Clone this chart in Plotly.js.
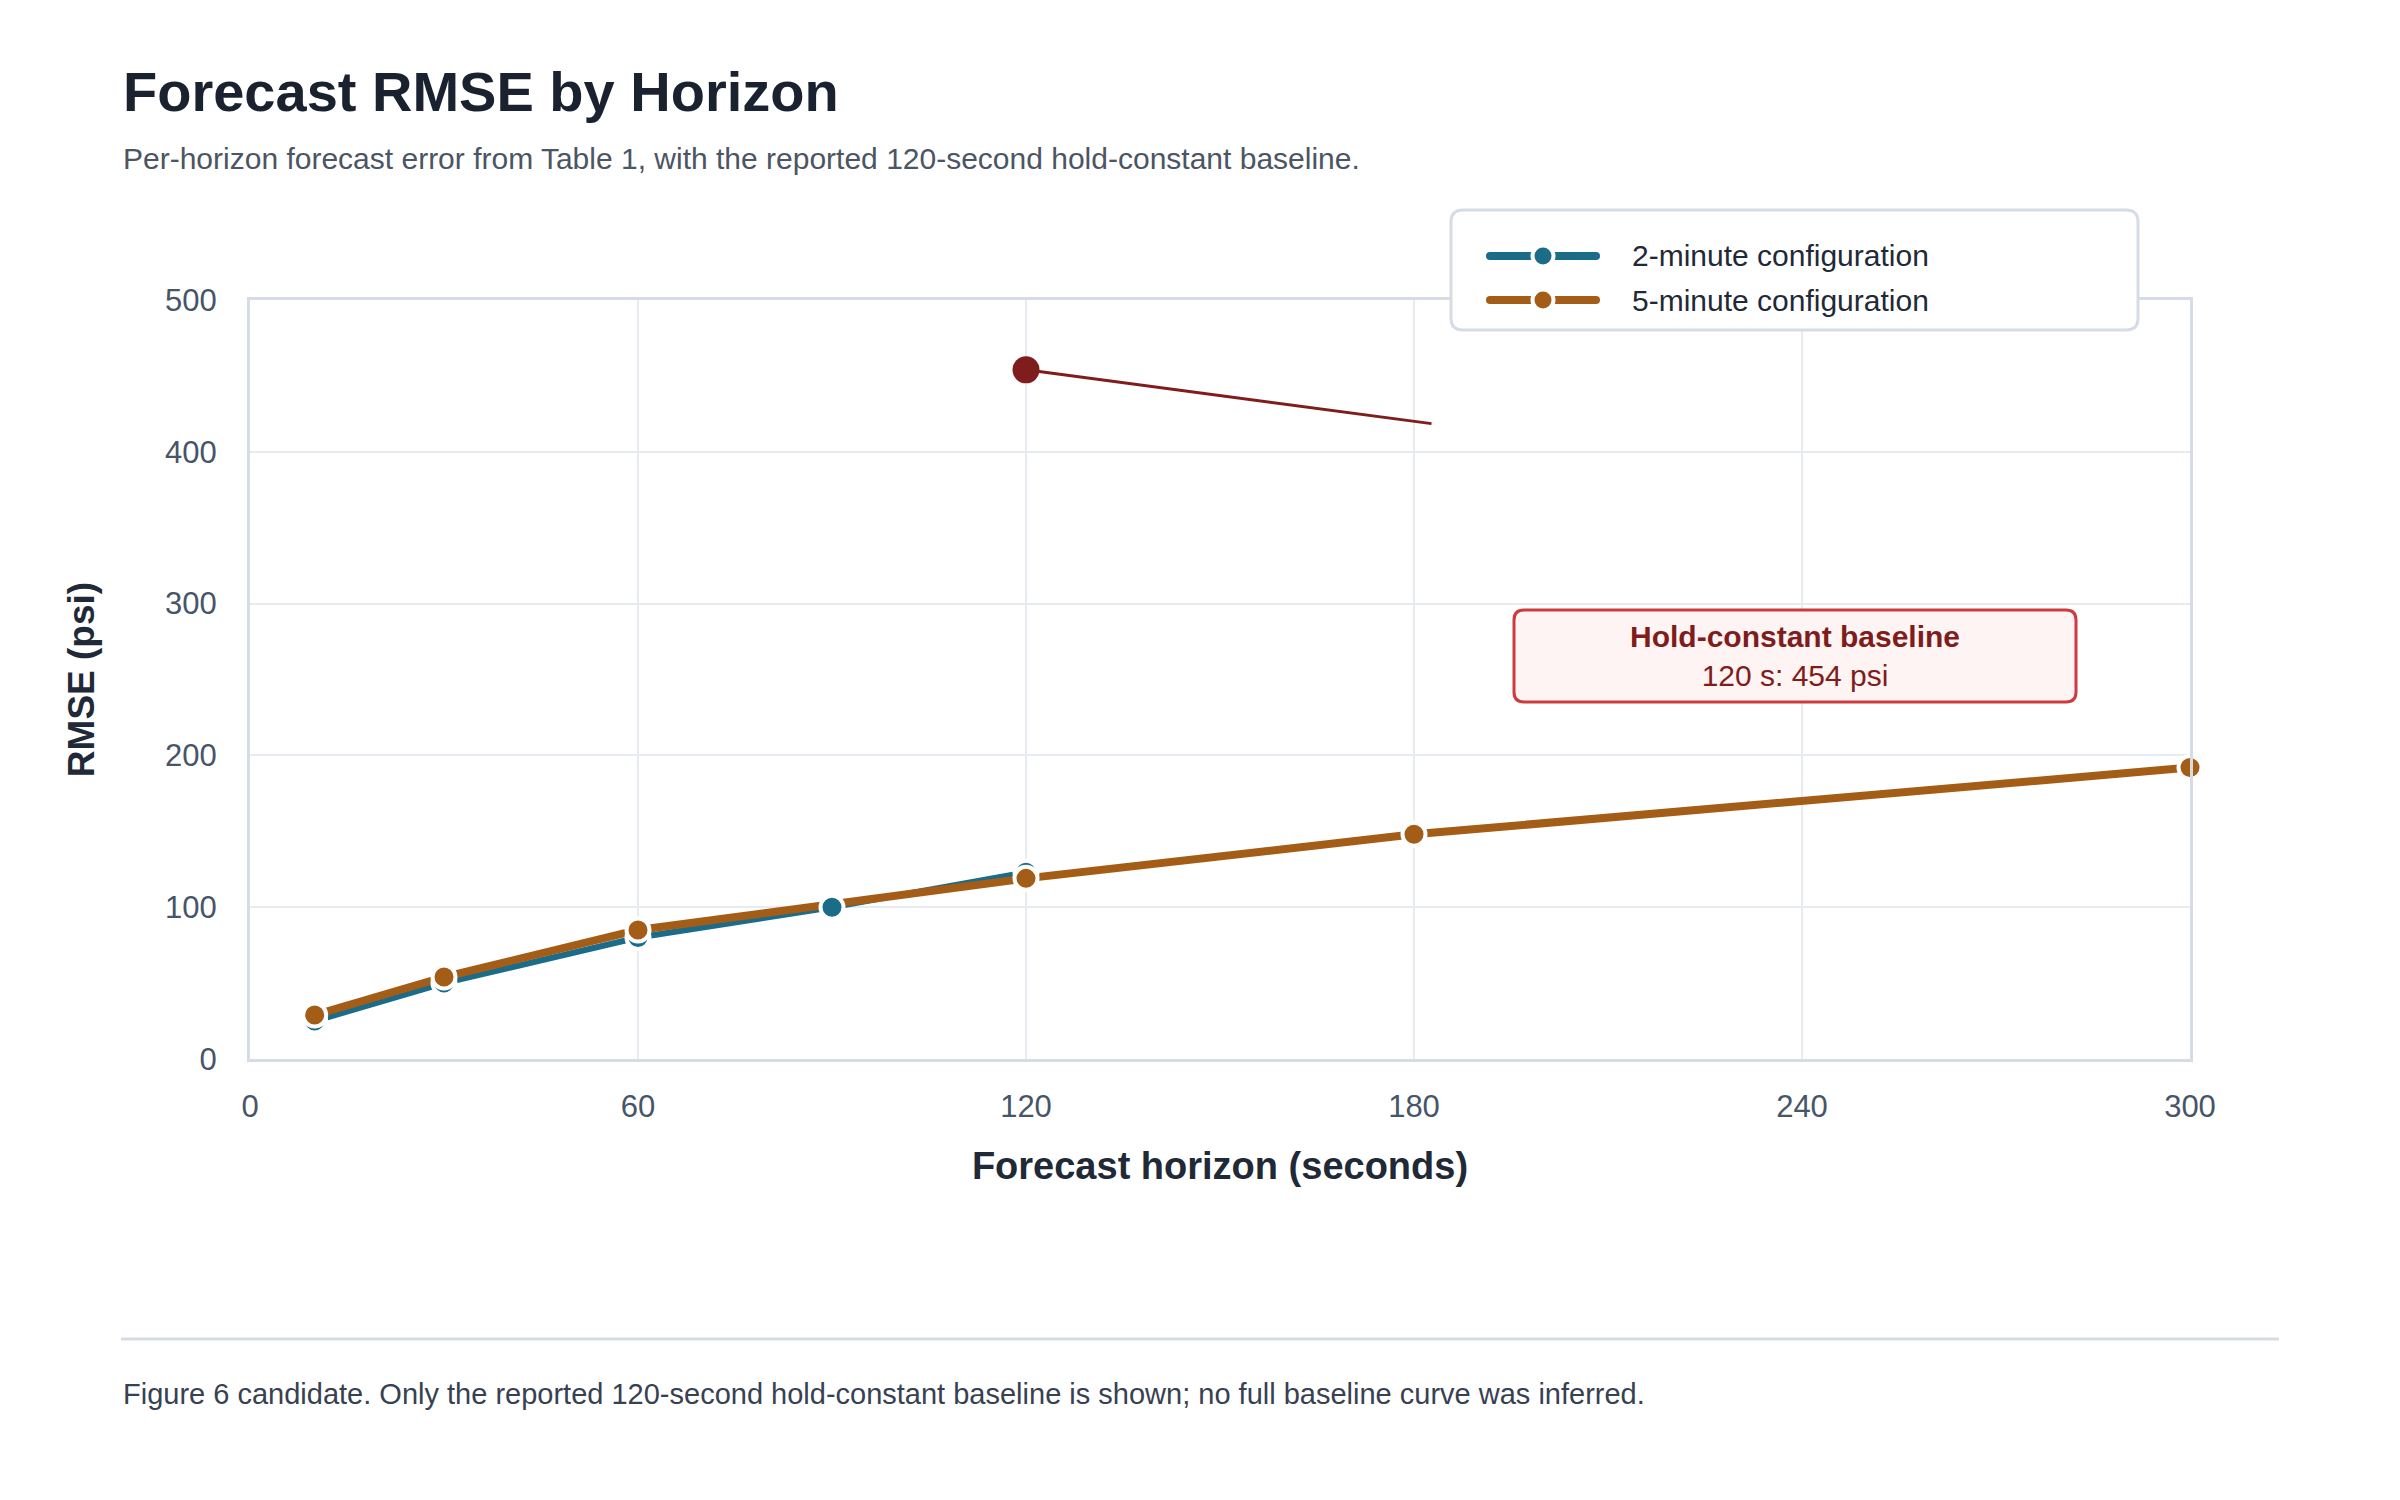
<!DOCTYPE html>
<html>
<head>
<meta charset="utf-8">
<script src="https://cdn.plot.ly/plotly-3.0.1.min.js"></script>
<style>
  html, body { margin: 0; padding: 0; background: #ffffff; }
  #chart { width: 2400px; height: 1500px; }
</style>
</head>
<body>
<div id="chart"></div>
<script>
// Data (RMSE in psi per forecast horizon in seconds)
const horizon2min = [10, 30, 60, 90, 120];
const rmse2min = [25, 50, 80, 100, 123];

const horizon5min = [10, 30, 60, 120, 180, 300];
const rmse5min = [29, 54, 85, 119, 148, 192];

const baselineHorizon = [120];
const baselineRmse = [454];

const seriesNames = ['2-minute configuration', '5-minute configuration'];

const xTicks = [0, 60, 120, 180, 240, 300];
const yTicks = [0, 100, 200, 300, 400, 500];

const teal = '#1b6c89';
const brown = '#a35d16';
const darkRed = '#7f1d1d';
const seriesColors = [teal, brown];
const fontFamily = 'Liberation Sans, Arial, Helvetica, sans-serif';

// plot area in page pixels
const W = 2400, H = 1500;
const L = 250, R = 2190, T = 300, B = 1059;

// page pixel -> paper coordinate
const px = v => (v - L) / (R - L);
const py = v => (B - v) / (B - T);

function roundedRect(x0, y0, x1, y1, r) {
    // rounded rectangle path in paper coords, corners given in pixels
    const X = v => px(v).toFixed(5), Y = v => py(v).toFixed(5);
    return `M${X(x0 + r)},${Y(y0)} L${X(x1 - r)},${Y(y0)} Q${X(x1)},${Y(y0)} ${X(x1)},${Y(y0 + r)} ` +
           `L${X(x1)},${Y(y1 - r)} Q${X(x1)},${Y(y1)} ${X(x1 - r)},${Y(y1)} ` +
           `L${X(x0 + r)},${Y(y1)} Q${X(x0)},${Y(y1)} ${X(x0)},${Y(y1 - r)} ` +
           `L${X(x0)},${Y(y0 + r)} Q${X(x0)},${Y(y0)} ${X(x0 + r)},${Y(y0)} Z`;
}

const markerStyle = color => ({ color: color, size: 23, line: { color: '#ffffff', width: 4 } });

const traces = [
    {
        x: horizon2min, y: rmse2min, type: 'scatter', mode: 'lines',
        name: seriesNames[0], cliponaxis: false,
        line: { color: teal, width: 6 }, hoverinfo: 'skip'
    },
    {
        x: horizon5min, y: rmse5min, type: 'scatter', mode: 'lines',
        name: seriesNames[1], cliponaxis: false,
        line: { color: brown, width: 8 }, hoverinfo: 'skip'
    },
    // markers after both lines so they sit on top
    {
        x: horizon2min, y: rmse2min, type: 'scatter', mode: 'markers',
        cliponaxis: false, marker: markerStyle(teal), hoverinfo: 'skip'
    },
    {
        x: horizon5min, y: rmse5min, type: 'scatter', mode: 'markers',
        cliponaxis: false, marker: markerStyle(brown), hoverinfo: 'skip'
    },
    {
        x: baselineHorizon, y: baselineRmse, type: 'scatter', mode: 'markers',
        cliponaxis: false, marker: { color: darkRed, size: 27 }, hoverinfo: 'skip'
    }
];

// legend drawn by hand so the swatches match the figure
const legendShapes = [];
const legendLabels = [];
seriesNames.forEach((name, i) => {
    const cy = 256 + i * 44;
    legendShapes.push({
        type: 'path', xref: 'paper', yref: 'paper', layer: 'above',
        path: roundedRect(1486, cy - 4, 1600, cy + 4, 4),
        fillcolor: seriesColors[i], line: { width: 0 }
    });
    legendShapes.push({
        type: 'circle', xref: 'paper', yref: 'paper', layer: 'above',
        x0: px(1543 - 10.5), x1: px(1543 + 10.5), y0: py(cy - 10.5), y1: py(cy + 10.5),
        fillcolor: seriesColors[i], line: { color: '#ffffff', width: 4 }
    });
    legendLabels.push({
        xref: 'paper', yref: 'paper', x: px(1630), y: py(cy),
        xanchor: 'left', yanchor: 'middle', showarrow: false,
        text: name, font: { size: 30, color: '#1f2937' }
    });
});

const layout = {
    width: W, height: H,
    margin: { l: L, r: W - R, t: T, b: H - B },
    paper_bgcolor: '#ffffff',
    plot_bgcolor: '#ffffff',
    font: { family: fontFamily, color: '#1f2937', size: 29 },
    showlegend: false,
    xaxis: {
        range: [0, 300], tickvals: xTicks, ticks: '',
        tickfont: { size: 31, color: '#475569' }, ticklabelstandoff: 18,
        showgrid: true, gridcolor: '#e8ecf2', gridwidth: 2,
        showline: true, linecolor: '#d5dce6', linewidth: 3, mirror: true,
        zeroline: false,
        title: { text: '<b>Forecast horizon (seconds)</b>', font: { size: 38, color: '#1f2937' }, standoff: 30 }
    },
    yaxis: {
        range: [0, 500], tickvals: yTicks, ticks: '',
        tickfont: { size: 31, color: '#475569' }, ticklabelstandoff: 24,
        showgrid: true, gridcolor: '#e8ecf2', gridwidth: 2,
        showline: true, linecolor: '#d5dce6', linewidth: 3, mirror: true,
        zeroline: false,
        title: { text: '<b>RMSE (psi)</b>', font: { size: 37, color: '#1f2937' }, standoff: 60 }
    },
    shapes: [
        // legend frame
        {
            type: 'path', xref: 'paper', yref: 'paper', layer: 'above',
            path: roundedRect(1451, 210, 2138, 330, 12),
            fillcolor: '#ffffff', line: { color: '#d5dce6', width: 3 }
        },
        ...legendShapes,
        // annotation frame
        {
            type: 'path', xref: 'paper', yref: 'paper', layer: 'above',
            path: roundedRect(1514, 610, 2076, 702, 10),
            fillcolor: '#fff4f4', line: { color: '#cf3a3e', width: 3 }
        },
        // footer rule
        {
            type: 'line', xref: 'paper', yref: 'paper',
            x0: px(121), x1: px(2279), y0: py(1339), y1: py(1339),
            line: { color: '#d5dce6', width: 3 }
        }
    ],
    annotations: [
        {
            xref: 'paper', yref: 'paper', x: px(121), y: py(92),
            xanchor: 'left', yanchor: 'middle', showarrow: false,
            text: '<b>Forecast RMSE by Horizon</b>',
            font: { size: 56, color: '#1a2230' }
        },
        {
            xref: 'paper', yref: 'paper', x: px(121), y: py(159),
            xanchor: 'left', yanchor: 'middle', showarrow: false,
            text: 'Per-horizon forecast error from Table 1, with the reported 120-second hold-constant baseline.',
            font: { size: 30, color: '#4b5563' }
        },
        {
            xref: 'paper', yref: 'paper', x: px(121), y: py(1394),
            xanchor: 'left', yanchor: 'middle', showarrow: false,
            text: 'Figure 6 candidate. Only the reported 120-second hold-constant baseline is shown; no full baseline curve was inferred.',
            font: { size: 29, color: '#374151' }
        },
        ...legendLabels,
        // connector from the baseline point
        {
            xref: 'x', yref: 'y', x: baselineHorizon[0], y: baselineRmse[0],
            ax: 407, ay: 54, text: '', showarrow: true,
            arrowhead: 0, arrowwidth: 3, arrowcolor: darkRed
        },
        {
            xref: 'paper', yref: 'paper', x: px(1795), y: py(656),
            xanchor: 'center', yanchor: 'middle', showarrow: false, align: 'center',
            text: '<b>Hold-constant baseline</b><br>' + baselineHorizon[0] + ' s: ' + baselineRmse[0] + ' psi',
            font: { size: 30, color: darkRed }
        }
    ]
};

Plotly.newPlot('chart', traces, layout, { displayModeBar: false, staticPlot: true });
</script>
</body>
</html>
